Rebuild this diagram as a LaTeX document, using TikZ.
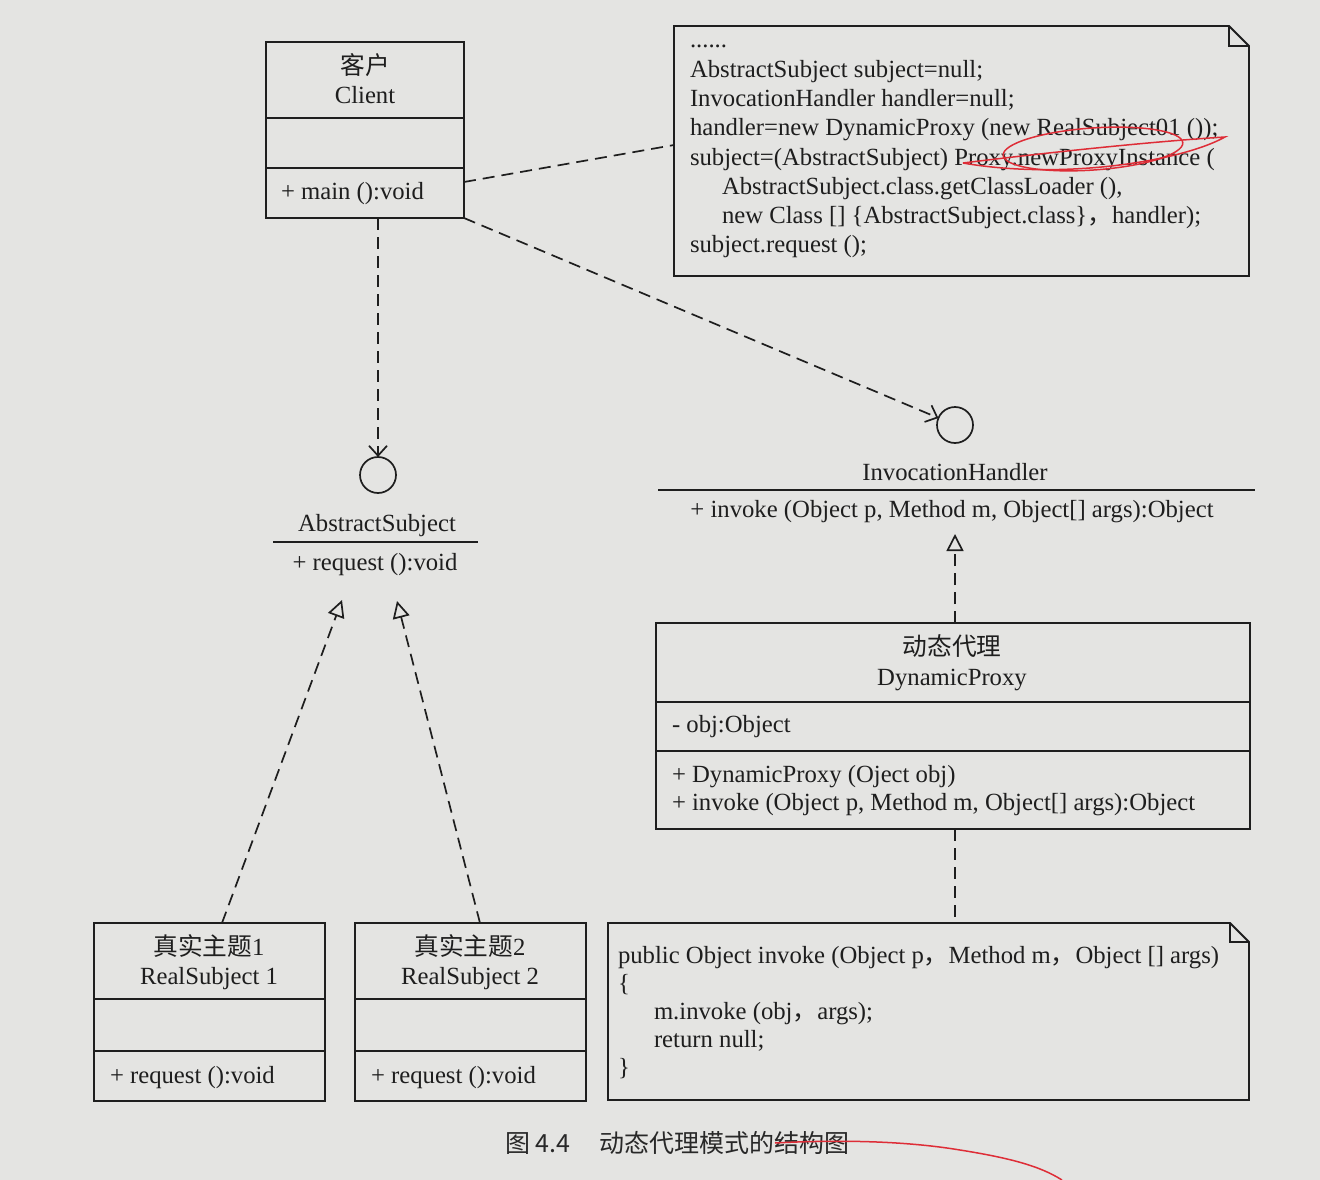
\documentclass[tikz,border=0pt]{standalone}
\usepackage{fontspec}
\setmainfont{Liberation Serif}
\newfontfamily\cjk{Noto Sans CJK SC}
\usetikzlibrary{arrows.meta}
\definecolor{paper}{RGB}{228,228,226}
\definecolor{ink}{RGB}{30,30,30}
\definecolor{redpen}{RGB}{222,45,55}
\begin{document}
\begin{tikzpicture}[x=1pt,y=-1pt,
  every node/.style={inner sep=0pt, outer sep=0pt, text=ink, font=\fontsize{24.7}{29}\selectfont},
  umlbox/.style={draw=ink, line width=1.8pt, anchor=north west, rectangle},
  ghost/.style={anchor=north west, rectangle},
  rule/.style={draw=ink, line width=1.8pt},
  dep/.style={draw=ink, line width=1.7pt, dash pattern=on 12pt off 7pt},
  openV/.style={-{Straight Barb[length=10pt,width=18pt,line width=1.7pt]}},
  realize/.style={-{Triangle[open,length=17pt,width=17pt,line width=1.7pt]}},
  txt/.style={anchor=base west},
  ctxt/.style={anchor=base},
  lolly/.style={circle, draw=ink, line width=1.7pt, minimum size=36pt},
  pen/.style={draw=redpen, line width=1.5pt},
  captext/.style={anchor=base west, text={rgb,255:red,40;green,40;blue,40}, font=\cjk\fontsize{25}{30}\selectfont},
]
\fill[paper] (0,0) rectangle (1320,1180);
\useasboundingbox (0,0) rectangle (1320,1180);

% ---------- Client ----------
\node[umlbox, minimum width=198pt, minimum height=176pt] (client) at (266,42) {};
\draw[rule] (266,118) -- (464,118);
\draw[rule] (266,168) -- (464,168);
\node[ctxt] (clientcn) at (365,75) {\cjk 客户};
\node[ctxt] (clientname) at (365,104) {Client};
\node[txt] (clientop) at (281,200) {+ main ():void};

% ---------- Note 1 ----------
\node[ghost, minimum width=575pt, minimum height=250pt] (note1) at (674,26) {};
\draw[rule, line join=miter] (674,26) -- (1229,26) -- (1249,46) -- (1249,276) -- (674,276) -- cycle;
\draw[rule] (1229,26) -- (1229,46) -- (1249,46);
\node[txt] (n1a) at (690,48) {......};
\node[txt] (n1b) at (690,78) {AbstractSubject subject=null;};
\node[txt] (n1c) at (690,107) {InvocationHandler handler=null;};
\node[txt] (n1d) at (690,136) {handler=new DynamicProxy (new RealSubject01 ());};
\node[txt] (n1e) at (690,165) {subject=(AbstractSubject) Proxy.newProxyInstance (};
\node[txt] (n1f) at (722,194) {AbstractSubject.class.getClassLoader (),};
\node[txt] (n1g) at (722,223) {new Class [] \{AbstractSubject.class\}{\cjk ，}handler);};
\node[txt] (n1h) at (690,252) {subject.request ();};
% red pen marks
\draw[pen, rotate around={4:(1093,149)}] (1093,149) ellipse [x radius=90, y radius=21];
\draw[pen] (963,163) .. controls (1060,180) and (1180,162) .. (1225,137) .. controls (1160,141) and (1060,151) .. (963,163);

% ---------- AbstractSubject ----------
\node[lolly] (asc) at (378,475) {};
\node[ctxt] (asname) at (377,531) {AbstractSubject};
\draw[rule] (273,542) -- (478,542);
\node[ctxt] (asop) at (375,570) {+ request ():void};
\coordinate (asL) at (342,600);
\coordinate (asR) at (397,601);

% ---------- InvocationHandler ----------
\node[lolly] (ihc) at (955,425) {};
\node[ctxt] (ihname) at (955,480) {InvocationHandler};
\draw[rule] (658,490) -- (1255,490);
\node[ctxt] (ihop) at (952,517) {+ invoke (Object p, Method m, Object[] args):Object};
\coordinate (ihtip) at (955,534);

% ---------- DynamicProxy ----------
\node[umlbox, minimum width=594pt, minimum height=206pt] (dp) at (656,623) {};
\draw[rule] (656,702) -- (1250,702);
\draw[rule] (656,751) -- (1250,751);
\node[ctxt] (dpcn) at (952,655) {\cjk 动态代理};
\node[ctxt] (dpname) at (952,685) {DynamicProxy};
\node[txt] (dpattr) at (672,732) {- obj:Object};
\node[txt] (dpop1) at (672,782) {+ DynamicProxy (Oject obj)};
\node[txt] (dpop2) at (672,810) {+ invoke (Object p, Method m, Object[] args):Object};

% ---------- Note 2 ----------
\node[ghost, minimum width=641pt, minimum height=177pt] (note2) at (608,923) {};
\draw[rule, line join=miter] (608,923) -- (1230,923) -- (1249,942) -- (1249,1100) -- (608,1100) -- cycle;
\draw[rule] (1230,923) -- (1230,942) -- (1249,942);
\node[txt] (n2a) at (618,963) {public Object invoke (Object p{\cjk ，}Method m{\cjk ，}Object [] args)};
\node[txt] (n2b) at (618,991) {\{};
\node[txt] (n2c) at (654,1019) {m.invoke (obj{\cjk ，}args);};
\node[txt] (n2d) at (654,1047) {return null;};
\node[txt] (n2e) at (618,1075) {\}};

% ---------- RealSubject 1 ----------
\node[umlbox, minimum width=231pt, minimum height=178pt] (rs1) at (94,923) {};
\draw[rule] (94,999) -- (325,999);
\draw[rule] (94,1051) -- (325,1051);
\node[ctxt] (rs1cn) at (209,955) {{\cjk 真实主题}1};
\node[ctxt] (rs1name) at (209,984) {RealSubject 1};
\node[txt] (rs1op) at (110,1083) {+ request ():void};
\coordinate (rs1top) at (222,923);

% ---------- RealSubject 2 ----------
\node[umlbox, minimum width=231pt, minimum height=178pt] (rs2) at (355,923) {};
\draw[rule] (355,999) -- (586,999);
\draw[rule] (355,1051) -- (586,1051);
\node[ctxt] (rs2cn) at (470,955) {{\cjk 真实主题}2};
\node[ctxt] (rs2name) at (470,984) {RealSubject 2};
\node[txt] (rs2op) at (371,1083) {+ request ():void};
\coordinate (rs2top) at (480,923);

% ---------- connectors ----------
\coordinate (clientR) at (464,182);
\coordinate (note1L) at (674,145);
\draw[dep] (clientR) -- (note1L);
\draw[dep, openV] (client.south -| asc.center) -- (asc.north);
\draw[dep, openV] (client.south east) -- (ihc);
\draw[dep, realize] (dp.north -| ihtip) -- (ihtip);
\draw[dep] (dp.south -| ihtip) -- (note2.north -| ihtip);
\draw[dep, realize] (rs1top) -- (asL);
\draw[dep, realize] (rs2top) -- (asR);

% ---------- caption ----------
\node[captext] (cap1) at (505,1152) {图 4.4};
\node[captext] (cap2) at (599,1152) {动态代理模式的结构图};
\draw[pen] (775,1143) .. controls (830,1140) and (900,1140) .. (960,1150) .. controls (1010,1158) and (1040,1166) .. (1062,1180);
\end{tikzpicture}
\end{document}
